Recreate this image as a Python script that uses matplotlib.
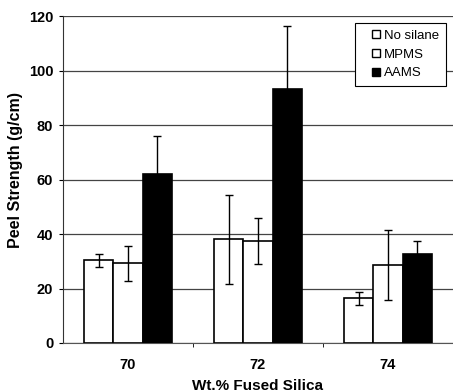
import matplotlib.pyplot as plt
from matplotlib.lines import Line2D
import numpy as np

plt.rcParams['font.family'] = ['Liberation Sans', 'DejaVu Sans']

# Data
silica = ['70', '72', '74']
series = ['No silane', 'MPMS', 'AAMS']
no_silane = [30.3, 38.0, 16.4]
no_silane_err = [2.5, 16.4, 2.5]
mpms = [29.2, 37.4, 28.6]
mpms_err = [6.3, 8.3, 12.8]
aams = [62.0, 93.4, 32.5]
aams_err = [14.1, 23.0, 5.0]

values = [no_silane, mpms, aams]
errors = [no_silane_err, mpms_err, aams_err]
faces = ['white', 'white', 'black']

fig = plt.figure(figsize=(4.53, 3.92), dpi=100)
ax = fig.add_axes([0.139, 0.125, 0.861, 0.834])

x = np.arange(len(silica))
w = 0.225
for i in range(3):
    ax.bar(x + (i - 1) * w, values[i], w, color=faces[i], edgecolor='black',
           linewidth=1.2, zorder=3)
    ax.errorbar(x + (i - 1) * w, values[i], yerr=errors[i], fmt='none',
                ecolor='black', elinewidth=1, capsize=3, capthick=1, zorder=4)

ax.set_xlim(-0.5, 2.5)
ax.set_ylim(0, 120)
ax.set_yticks(np.arange(0, 121, 20))
ax.yaxis.grid(True, color='#444444', linewidth=0.9, zorder=0)
ax.set_axisbelow(True)

ax.set_xticks(x)
ax.set_xticklabels(silica)
ax.set_xticks([0.5, 1.5], minor=True)
ax.tick_params(axis='x', which='major', length=0, pad=11)
ax.tick_params(axis='x', which='minor', length=3, direction='out')
ax.tick_params(axis='y', length=3, direction='out', pad=4)
for lab in ax.get_xticklabels() + ax.get_yticklabels():
    lab.set_fontweight('bold')
    lab.set_fontsize(10.5)

ax.spines['right'].set_visible(False)
ax.spines['top'].set_visible(False)
ax.spines['left'].set_color('#333333')
ax.spines['bottom'].set_color('#555555')

fig.text(16 / 453, 0.5676, 'Peel Strength (g/cm)', rotation=90, ha='center',
         va='center', fontsize=11.5, fontweight='bold')
ax.set_xlabel('Wt.% Fused Silica', fontsize=11, fontweight='bold', labelpad=5)

handles = [Line2D([], [], linestyle='none', marker='s', markersize=5.5,
                  markerfacecolor=faces[i], markeredgecolor='black',
                  markeredgewidth=1) for i in range(3)]
leg = ax.legend(handles, series, loc='upper right', bbox_to_anchor=(0.982, 0.979),
                borderaxespad=0, fancybox=False, edgecolor='black', framealpha=1,
                fontsize=9.5, handlelength=2.1, handletextpad=-0.4,
                borderpad=0.5, labelspacing=0.5)
leg.get_frame().set_linewidth(0.8)
leg.set_zorder(5)

plt.savefig('out.png', dpi=100)
